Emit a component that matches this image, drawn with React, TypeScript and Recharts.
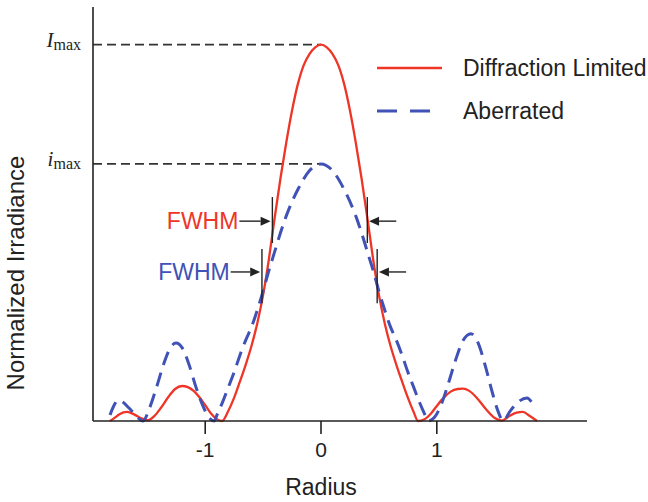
import { LineChart, Line, XAxis, YAxis, ReferenceLine, Legend, Label } from "recharts"

const SANS = "'Liberation Sans', Arial, Helvetica, sans-serif"
const SERIF = "'Liberation Serif', 'Times New Roman', serif"
const RED = "#ee3526"
const BLUE = "#4052b6"
const INK = "#222222"

// diffraction limited profile
const redRadius = [
  -1.822, -1.78, -1.74, -1.675, -1.61, -1.55, -1.494, -1.44, -1.38, -1.32, -1.26, -1.2, -1.15, -1.1,
  -1.05, -1.0, -0.95, -0.9, -0.855, -0.8, -0.75, -0.7, -0.65, -0.6, -0.55, -0.5, -0.45, -0.4, -0.35,
  -0.3, -0.25, -0.2, -0.15, -0.1, -0.05, 0, 0.05, 0.1, 0.15, 0.2, 0.25, 0.3, 0.35, 0.4, 0.45, 0.5,
  0.55, 0.6, 0.65, 0.7, 0.75, 0.8, 0.838, 0.89, 0.95, 1.0, 1.06, 1.12, 1.18, 1.226, 1.28, 1.35, 1.42,
  1.5, 1.563, 1.63, 1.69, 1.744, 1.8, 1.865,
]
const redIrradiance = [
  0, 0.009, 0.018, 0.024, 0.017, 0.007, 0.002, 0.013, 0.036, 0.063, 0.085, 0.093, 0.09, 0.08,
  0.063, 0.042, 0.02, 0.005, 0, 0.027, 0.062, 0.105, 0.15, 0.2, 0.26, 0.335, 0.43, 0.54, 0.645,
  0.74, 0.825, 0.895, 0.945, 0.975, 0.993, 1, 0.993, 0.975, 0.945, 0.895, 0.825, 0.74, 0.645, 0.54,
  0.43, 0.335, 0.26, 0.2, 0.15, 0.105, 0.062, 0.024, 0, 0.004, 0.02, 0.04, 0.062, 0.078, 0.085,
  0.086, 0.08, 0.06, 0.033, 0.008, 0.001, 0.014, 0.022, 0.024, 0.014, 0,
]

// aberrated profile
const blueRadius = [
  -1.822, -1.79, -1.753, -1.71, -1.66, -1.6, -1.537, -1.48, -1.42, -1.36, -1.3, -1.252, -1.2, -1.14,
  -1.08, -1.02, -0.97, -0.92, -0.9, -0.85, -0.8, -0.75, -0.7, -0.65, -0.6, -0.55, -0.5, -0.45, -0.4,
  -0.35, -0.3, -0.2, -0.1, 0, 0.1, 0.2, 0.3, 0.35, 0.4, 0.45, 0.5, 0.55, 0.6, 0.65, 0.7, 0.75, 0.8,
  0.85, 0.9, 0.924, 0.98, 1.04, 1.1, 1.16, 1.22, 1.295, 1.36, 1.42, 1.48, 1.53, 1.572, 1.63, 1.7,
  1.779, 1.82, 1.848,
]
const blueIrradiance = [
  0.016, 0.04, 0.055, 0.05, 0.035, 0.015, 0, 0.035, 0.09, 0.15, 0.195, 0.207, 0.195, 0.15, 0.09,
  0.04, 0.01, 0, 0.015, 0.05, 0.09, 0.13, 0.175, 0.215, 0.25, 0.295, 0.345, 0.4, 0.45, 0.5, 0.545,
  0.615, 0.665, 0.683, 0.665, 0.615, 0.545, 0.5, 0.45, 0.4, 0.345, 0.295, 0.25, 0.215, 0.175, 0.13,
  0.09, 0.05, 0.015, 0, 0.01, 0.045, 0.1, 0.16, 0.21, 0.232, 0.205, 0.145, 0.075, 0.025, 0, 0.025,
  0.05, 0.061, 0.05, 0.037,
]

const seriesNames = ["Diffraction Limited", "Aberrated"]
const xTicks = [-1, 0, 1]
const xDomain = [-1.969, 2.297]
const peakSymbols = ["i", "I"]
const redPeak = Math.max(...redIrradiance)
const bluePeak = Math.max(...blueIrradiance)
const peakTicks = [bluePeak, redPeak]

// FWHM edges (radius) and where the bracket marks sit (irradiance)
const fwhmRed = [-0.42, 0.4]
const fwhmBlue = [-0.51, 0.485]
const redBracket = [0.473, 0.595]
const blueBracket = [0.313, 0.457]
const redArrowLevel = 0.531
const blueArrowLevel = 0.396

const redData = redRadius.map((r, i) => ({ r, v: redIrradiance[i] }))
const blueData = blueRadius.map((r, i) => ({ r, v: blueIrradiance[i] }))

const PeakTick = (props: any) => {
  const { x, y, payload } = props
  const sym = peakSymbols[peakTicks.indexOf(payload.value)]
  return (
    <text x={x - 4} y={y + 2} textAnchor="end" fontFamily={SERIF} fill={INK}>
      <tspan fontStyle="italic" fontSize={21}>
        {sym}
      </tspan>
      <tspan fontSize={16} dy={3}>
        max
      </tspan>
    </text>
  )
}

const arrow = (text?: string, color?: string) => (props: any) => {
  const { x1, y1, x2, y2 } = props
  const dir = Math.sign(x2 - x1)
  const head = 10
  return (
    <g>
      <line x1={x1} y1={y1} x2={x2 - dir * head} y2={y2} stroke={INK} strokeWidth={1.4} />
      <polygon
        points={`${x2},${y2} ${x2 - dir * head},${y2 - 4.5} ${x2 - dir * head},${y2 + 4.5}`}
        fill={INK}
      />
      {text && (
        <text
          x={x1 - 1}
          y={y1}
          textAnchor="end"
          dominantBaseline="central"
          fontFamily={SANS}
          fontSize={23}
          fill={color}
        >
          {text}
        </text>
      )}
    </g>
  )
}

const LegendBox = () => (
  <svg width={278} height={80}>
    <line x1={7} x2={72} y1={18} y2={18} stroke={RED} strokeWidth={2.5} />
    <text x={93} y={18} dominantBaseline="central" fontFamily={SANS} fontSize={23} fill={INK}>
      {seriesNames[0]}
    </text>
    <line x1={7} x2={64} y1={61} y2={61} stroke={BLUE} strokeWidth={3} strokeDasharray="20 13" />
    <text x={93} y={61} dominantBaseline="central" fontFamily={SANS} fontSize={23} fill={INK}>
      {seriesNames[1]}
    </text>
  </svg>
)

export default function App() {
  return (
    <div style={{ position: "absolute", left: 0, top: 0 }}>
      <LineChart width={648} height={502} margin={{ top: 7, right: 61, bottom: 21, left: 33 }}>
        <XAxis
          type="number"
          dataKey="r"
          domain={xDomain}
          ticks={xTicks}
          allowDataOverflow
          height={60}
          tickSize={13}
          tickMargin={8}
          stroke={INK}
          strokeWidth={1.6}
          tick={{ fontSize: 21, fill: INK, fontFamily: SANS }}
          label={
            <Label
              content={() => (
                <text x={321} y={495} textAnchor="middle" fontFamily={SANS} fontSize={23} fill={INK}>
                  Radius
                </text>
              )}
            />
          }
        />
        <YAxis
          type="number"
          domain={[0, 1.1]}
          ticks={peakTicks}
          width={60}
          tickLine={false}
          stroke={INK}
          strokeWidth={1.6}
          tick={<PeakTick />}
          label={
            <Label
              content={() => (
                <text
                  x={15}
                  y={273}
                  transform="rotate(-90 15 273)"
                  textAnchor="middle"
                  dominantBaseline="central"
                  fontFamily={SANS}
                  fontSize={24}
                  fill={INK}
                >
                  Normalized Irradiance
                </text>
              )}
            />
          }
        />

        <ReferenceLine
          segment={[{ x: xDomain[0], y: redPeak }, { x: 0, y: redPeak }]}
          stroke="#333"
          strokeWidth={1.8}
          strokeDasharray="9 5"
        />
        <ReferenceLine
          segment={[{ x: xDomain[0], y: bluePeak }, { x: 0, y: bluePeak }]}
          stroke="#333"
          strokeWidth={1.8}
          strokeDasharray="9 5"
        />

        <Line
          data={redData}
          dataKey="v"
          type="monotone"
          stroke={RED}
          strokeWidth={2.3}
          dot={false}
          activeDot={false}
          isAnimationActive={false}
        />
        <Line
          data={blueData}
          dataKey="v"
          type="monotone"
          stroke={BLUE}
          strokeWidth={3}
          strokeDasharray="14 8"
          dot={false}
          activeDot={false}
          isAnimationActive={false}
        />

        {/* FWHM brackets */}
        {fwhmRed.map((x) => (
          <ReferenceLine
            key={`rb${x}`}
            segment={[{ x, y: redBracket[0] }, { x, y: redBracket[1] }]}
            stroke={INK}
            strokeWidth={1.4}
          />
        ))}
        {fwhmBlue.map((x) => (
          <ReferenceLine
            key={`bb${x}`}
            segment={[{ x, y: blueBracket[0] }, { x, y: blueBracket[1] }]}
            stroke={INK}
            strokeWidth={1.4}
          />
        ))}
        <ReferenceLine
          segment={[
            { x: fwhmRed[0] - 0.285, y: redArrowLevel },
            { x: fwhmRed[0] - 0.015, y: redArrowLevel },
          ]}
          shape={arrow("FWHM", RED)}
        />
        <ReferenceLine
          segment={[
            { x: fwhmRed[1] + 0.25, y: redArrowLevel },
            { x: fwhmRed[1] + 0.015, y: redArrowLevel },
          ]}
          shape={arrow()}
        />
        <ReferenceLine
          segment={[
            { x: fwhmBlue[0] - 0.27, y: blueArrowLevel },
            { x: fwhmBlue[0] - 0.015, y: blueArrowLevel },
          ]}
          shape={arrow("FWHM", BLUE)}
        />
        <ReferenceLine
          segment={[
            { x: fwhmBlue[1] + 0.25, y: blueArrowLevel },
            { x: fwhmBlue[1] + 0.015, y: blueArrowLevel },
          ]}
          shape={arrow()}
        />

        <Legend
          layout="vertical"
          align="center"
          verticalAlign="middle"
          wrapperStyle={{ left: 370, top: 50, width: 278, height: 80 }}
          content={() => <LegendBox />}
        />
      </LineChart>
    </div>
  )
}
